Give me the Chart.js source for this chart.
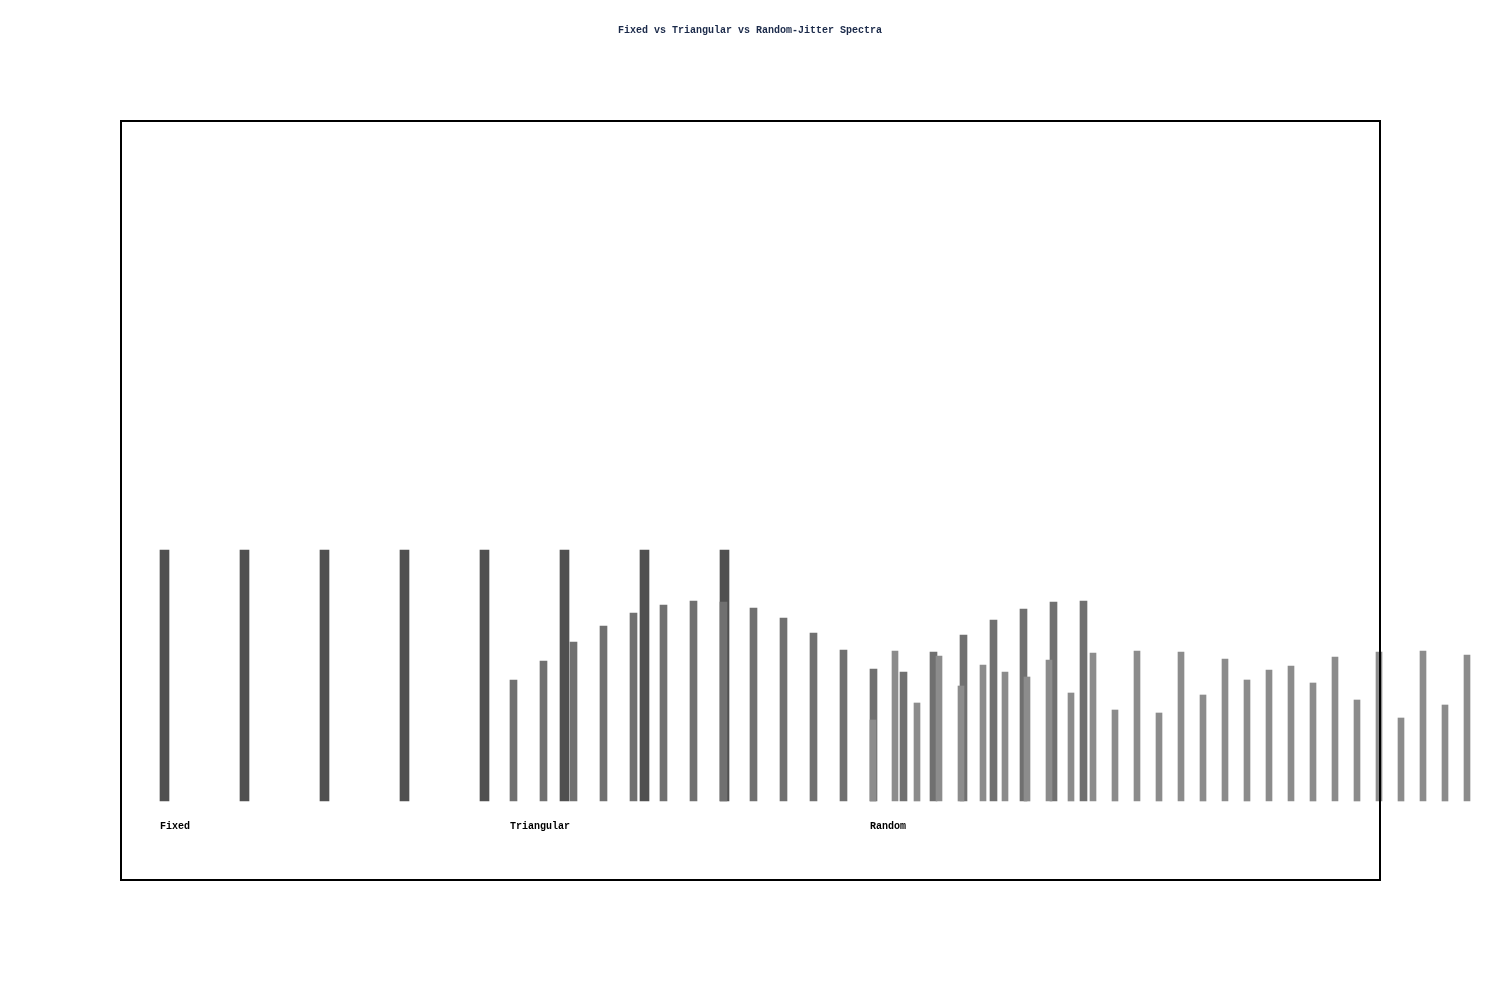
<!DOCTYPE html>
<html>
<head>
<meta charset="utf-8">
<script src="https://cdn.jsdelivr.net/npm/chart.js@4.4.1/dist/chart.umd.min.js"></script>
<style>
  html, body { margin: 0; padding: 0; background: #fff; }
  #wrap { width: 1500px; height: 1000px; position: relative; }
</style>
</head>
<body>
<div id="wrap"><canvas id="chart"></canvas></div>
<script>
// line positions (x units) and magnitudes for each spectrum
const fixedX = [164.5, 244.5, 324.5, 404.5, 484.5, 564.5, 644.5, 724.5];
const fixedMag = [1.004, 1.004, 1.004, 1.004, 1.004, 1.004, 1.004, 1.004];

const triX = [513.5, 543.5, 573.5, 603.5, 633.5, 663.5, 693.5, 723.5, 753.5, 783.5,
              813.5, 843.5, 873.5, 903.5, 933.5, 963.5, 993.5, 1023.5, 1053.5, 1083.5];
const triMag = [0.484, 0.56, 0.636, 0.70, 0.752, 0.784, 0.80, 0.796, 0.772, 0.732,
                0.672, 0.604, 0.528, 0.516, 0.596, 0.664, 0.724, 0.768, 0.796, 0.80];

const randX = [873, 895, 917, 939, 961, 983, 1005, 1027, 1049, 1071,
               1093, 1115, 1137, 1159, 1181, 1203, 1225, 1247, 1269, 1291,
               1313, 1335, 1357, 1379, 1401, 1423, 1445, 1467];
const randMag = [0.324, 0.60, 0.392, 0.58, 0.46, 0.544, 0.516, 0.496, 0.564, 0.432,
                 0.592, 0.364, 0.60, 0.352, 0.596, 0.424, 0.568, 0.484, 0.524, 0.54,
                 0.472, 0.576, 0.404, 0.596, 0.332, 0.60, 0.384, 0.584];

const groupLabels = ['Fixed', 'Triangular', 'Random'];
const groupStart = [160, 510, 870];

function pts(xs, ys) {
  return xs.map((x, i) => ({ x: x, y: ys[i] }));
}

const frameAndLabels = {
  id: 'frameAndLabels',
  afterDatasetsDraw(chart) {
    const ctx = chart.ctx;
    const xs = chart.scales.x;
    const ys = chart.scales.y;
    ctx.save();
    ctx.strokeStyle = '#000';
    ctx.lineWidth = 2;
    ctx.strokeRect(121, 121, 1259, 759);
    ctx.fillStyle = '#000';
    ctx.font = 'bold 10px "Liberation Mono", monospace';
    ctx.textAlign = 'left';
    ctx.textBaseline = 'middle';
    const labelY = ys.getPixelForValue(0) + 25;
    groupLabels.forEach((t, i) => {
      ctx.fillText(t, xs.getPixelForValue(groupStart[i]), labelY);
    });
    ctx.restore();
  }
};

new Chart(document.getElementById('chart'), {
  type: 'bar',
  data: {
    datasets: [
      { label: 'Fixed', data: pts(fixedX, fixedMag), backgroundColor: '#505050', barThickness: 9, order: 3 },
      { label: 'Triangular', data: pts(triX, triMag), backgroundColor: '#707070', barThickness: 7, order: 2 },
      { label: 'Random', data: pts(randX, randMag), backgroundColor: '#8c8c8c', barThickness: 6, order: 1 }
    ]
  },
  options: {
    responsive: true,
    maintainAspectRatio: false,
    animation: false,
    layout: { padding: 0 },
    datasets: { bar: { grouped: false, clip: false, borderWidth: 0 } },
    plugins: {
      legend: { display: false },
      tooltip: { enabled: false },
      title: {
        display: true,
        text: 'Fixed vs Triangular vs Random-Jitter Spectra',
        color: '#1b2a4a',
        font: { family: '"Liberation Mono", monospace', size: 10, weight: 'bold', lineHeight: 1.2 },
        padding: { top: 24, bottom: 14 }
      }
    },
    scales: {
      x: { type: 'linear', display: false, offset: false, min: 0, max: 1500 },
      y: { type: 'linear', display: false, min: -0.796, max: 3.004 }
    }
  },
  plugins: [frameAndLabels]
});
</script>
</body>
</html>
